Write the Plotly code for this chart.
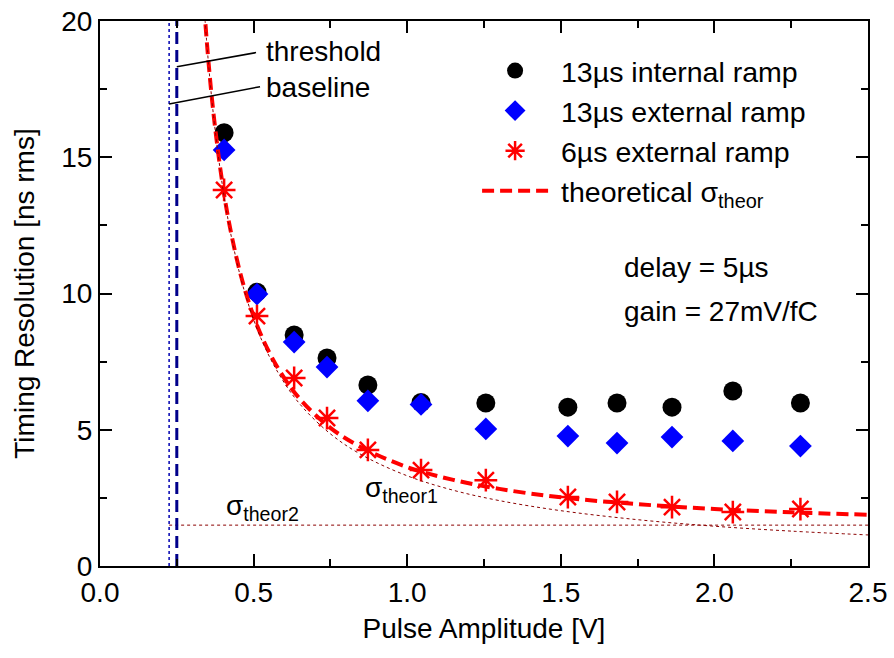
import plotly.graph_objects as go

# ---- data ----
amp = [0.404, 0.511, 0.632, 0.739, 0.872, 1.045, 1.256, 1.523, 1.683, 1.862, 2.060, 2.280]
int13 = [15.9, 10.05, 8.48, 7.63, 6.64, 6.0, 5.98, 5.83, 5.98, 5.83, 6.42, 5.98]
ext13 = [15.27, 9.98, 8.22, 7.30, 6.06, 5.93, 5.03, 4.77, 4.51, 4.73, 4.59, 4.40]
ext6 = [13.8, 9.17, 6.9, 5.43, 4.26, 3.52, 3.15, 2.53, 2.35, 2.16, 1.98, 2.09]

curve_x = [0.335, 0.35, 0.37, 0.40, 0.43, 0.47, 0.52, 0.58, 0.65, 0.75, 0.85, 1.0,
           1.15, 1.3, 1.5, 1.75, 2.0, 2.25, 2.5]
theor = [21.2, 18.92, 16.55, 13.93, 12.04, 10.20, 8.59, 7.25, 6.14, 5.07, 4.36, 3.63,
         3.16, 2.83, 2.52, 2.27, 2.09, 1.97, 1.88]
theor1 = [21.15, 18.86, 16.48, 13.85, 11.95, 10.09, 8.46, 7.09, 5.95, 4.85, 4.09, 3.31,
          2.78, 2.40, 2.03, 1.70, 1.46, 1.28, 1.14]
theor2_x = [0.225, 2.5]
theor2 = [1.5, 1.5]

baseline_x = 0.225
threshold_x = 0.25
y_range = [0, 20]
x_range = [0, 2.5]

FONT = "Liberation Sans, Arial, sans-serif"
FS = 28
PAD = "\u00a0"

fig = go.Figure()
fig.add_trace(go.Scatter(x=amp, y=int13, mode="markers", name=PAD + "13µs internal ramp",
                         marker=dict(symbol="circle", size=19, color="black")))
fig.add_trace(go.Scatter(x=amp, y=ext13, mode="markers", name=PAD + "13µs external ramp",
                         marker=dict(symbol="diamond", size=17.5, color="#0000FF")))
fig.add_trace(go.Scatter(x=amp, y=ext6, mode="markers", name=PAD + "6µs external ramp",
                         marker=dict(symbol="asterisk-open", size=19,
                                     line=dict(color="#FF0000", width=2.5), color="#FF0000")))
fig.add_trace(go.Scatter(x=curve_x, y=theor, mode="lines", name=PAD + "theoretical σ<sub>theor</sub>",
                         line=dict(color="#FF0000", width=4, dash="12px,6px", shape="spline")))
fig.add_trace(go.Scatter(x=curve_x, y=theor1, mode="lines", showlegend=False,
                         line=dict(color="#8B0000", width=1, dash="dot", shape="spline")))
fig.add_trace(go.Scatter(x=theor2_x, y=theor2, mode="lines", showlegend=False,
                         line=dict(color="#8B0000", width=1, dash="dot")))
fig.add_trace(go.Scatter(x=[baseline_x, baseline_x], y=y_range, mode="lines", showlegend=False,
                         line=dict(color="#0000B0", width=1.5, dash="dot")))
fig.add_trace(go.Scatter(x=[threshold_x, threshold_x], y=y_range, mode="lines", showlegend=False,
                         line=dict(color="#00008B", width=3, dash="12px,6px")))

# leader lines for labels
fig.add_shape(type="line", x0=0.25, y0=18.32, x1=0.508, y1=18.84,
              line=dict(color="black", width=1.5))
fig.add_shape(type="line", x0=0.225, y0=16.95, x1=0.521, y1=17.59,
              line=dict(color="black", width=1.5))

ann = dict(showarrow=False, xanchor="left", font=dict(family=FONT, size=FS, color="black"))
fig.add_annotation(x=0.534, y=18.88, text="threshold", **ann)
fig.add_annotation(x=0.534, y=17.55, text="baseline", **ann)
fig.add_annotation(x=1.70, y=10.97, text="delay = 5µs", **ann)
fig.add_annotation(x=1.70, y=9.35, text="gain = 27mV/fC", **ann)
fig.add_annotation(x=0.855, y=2.8, text="σ<sub>theor1</sub>", **ann)
fig.add_annotation(x=0.405, y=2.15, text="σ<sub>theor2</sub>", **ann)

axis_common = dict(showgrid=False, zeroline=False, showline=True, linecolor="black",
                   linewidth=2, mirror="ticks", ticks="inside", ticklen=12, tickwidth=2,
                   tickcolor="black", automargin=False,
                   tickfont=dict(family=FONT, size=FS, color="black"))
fig.update_xaxes(range=x_range, dtick=0.5, tickformat=".1f",
                 minor=dict(dtick=0.25, ticks="inside", ticklen=7, tickwidth=2, tickcolor="black"),
                 title=dict(text="Pulse Amplitude [V]", font=dict(family=FONT, size=FS, color="black"),
                            standoff=12),
                 **axis_common)
fig.update_yaxes(range=y_range, dtick=5,
                 minor=dict(dtick=2.5, ticks="inside", ticklen=7, tickwidth=2, tickcolor="black"),
                 title=dict(text="Timing Resolution [ns rms]", font=dict(family=FONT, size=FS, color="black"),
                            standoff=18),
                 **axis_common)

fig.update_layout(
    width=894, height=658,
    margin=dict(l=100, r=26, t=21, b=92),
    plot_bgcolor="white", paper_bgcolor="white",
    font=dict(family=FONT, size=FS, color="black"),
    legend=dict(x=0.491, y=0.955, xanchor="left", yanchor="top", bgcolor="rgba(0,0,0,0)",
                itemwidth=66, font=dict(family=FONT, size=28.5, color="black"),
                tracegroupgap=0),
)

fig.write_html("out.html")
